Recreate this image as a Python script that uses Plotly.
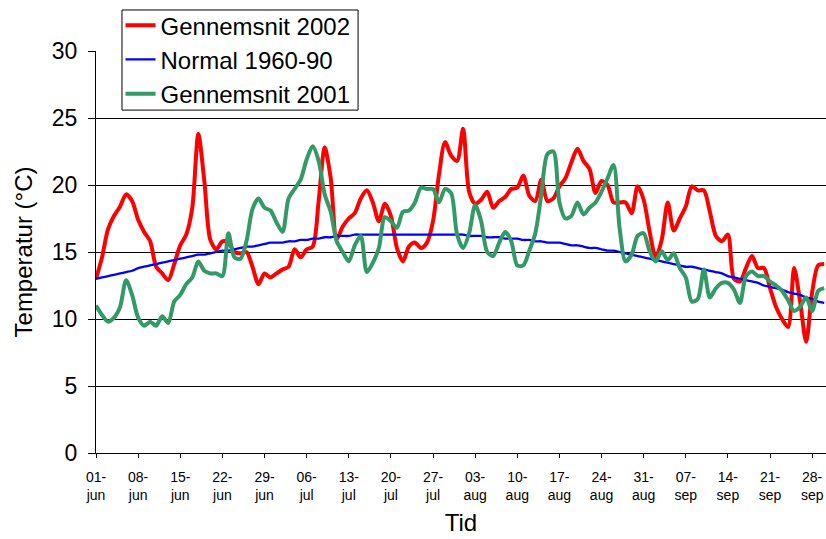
import plotly.graph_objects as go

# day index 0 = 01-jun ... 121 = 30-sep
days = list(range(122))

gennemsnit_2002 = [13.0, 14.6, 16.7, 17.7, 18.4, 19.3, 18.8, 17.4, 16.5, 15.8,
                   13.9, 13.4, 12.9, 14.1, 15.5, 16.3, 18.3, 23.8, 20.3, 15.9,
                   15.2, 15.8, 15.7, 15.0, 14.9, 15.0, 13.9, 12.6, 13.4, 13.1,
                   13.4, 13.7, 13.9, 15.2, 14.6, 15.2, 15.4, 18.8, 22.8, 20.5,
                   16.0, 16.9, 17.5, 17.9, 19.0, 19.6, 18.7, 17.3, 18.6, 17.7,
                   15.3, 14.3, 15.4, 15.7, 15.3, 15.7, 17.3, 20.8, 23.2, 22.2,
                   21.8, 24.2, 19.5, 18.6, 18.9, 19.5, 18.3, 18.8, 19.1, 19.7,
                   19.8, 20.7, 19.2, 18.8, 20.4, 18.8, 19.0, 19.9, 20.5, 21.7,
                   22.7, 21.8, 21.2, 19.4, 20.3, 20.0, 18.7, 18.7, 18.7, 17.9,
                   19.9, 18.9, 16.5, 14.6, 15.9, 18.7, 16.6, 17.5, 18.4, 19.9,
                   19.6, 19.6, 18.0, 16.2, 15.8, 16.3, 13.0, 12.8, 13.8, 14.7,
                   13.8, 13.8, 12.3, 10.9, 10.0, 9.4, 13.8, 11.3, 8.3, 12.0,
                   14.0, 14.1]

normal_1960_90 = [13.0, 13.1, 13.2, 13.3, 13.4, 13.5, 13.6, 13.8, 13.9, 14.0,
                  14.1, 14.2, 14.3, 14.4, 14.5, 14.6, 14.7, 14.8, 14.8, 14.9,
                  15.0, 15.1, 15.1, 15.2, 15.3, 15.4, 15.4, 15.5, 15.6, 15.7,
                  15.7, 15.7, 15.8, 15.8, 15.9, 15.9, 16.0, 16.0, 16.1, 16.1,
                  16.2, 16.2, 16.2, 16.3, 16.3, 16.3, 16.3, 16.3, 16.3, 16.3,
                  16.3, 16.3, 16.3, 16.3, 16.3, 16.3, 16.3, 16.3, 16.3, 16.3,
                  16.3, 16.3, 16.2, 16.2, 16.2, 16.1, 16.1, 16.1, 16.0, 16.0,
                  16.0, 15.9, 15.9, 15.8, 15.8, 15.7, 15.7, 15.7, 15.6, 15.5,
                  15.5, 15.4, 15.3, 15.3, 15.2, 15.1, 15.1, 15.0, 14.9, 14.8,
                  14.7, 14.6, 14.5, 14.4, 14.3, 14.2, 14.1, 14.0, 13.9, 13.9,
                  13.8, 13.7, 13.6, 13.5, 13.4, 13.2, 13.1, 13.0, 12.9, 12.8,
                  12.7, 12.5, 12.4, 12.3, 12.2, 12.0, 11.9, 11.8, 11.6, 11.5,
                  11.3, 11.2]

gennemsnit_2001 = [11.0, 10.3, 9.8, 10.1, 10.9, 12.9, 11.8, 10.1, 9.5, 9.8,
                   9.5, 10.2, 9.7, 11.3, 11.8, 12.6, 13.1, 14.3, 13.6, 13.4,
                   13.4, 13.2, 16.4, 14.6, 14.5, 15.8, 18.2, 19.0, 18.3, 18.1,
                   17.2, 16.5, 19.0, 19.7, 20.4, 21.9, 22.9, 21.8, 19.3, 18.0,
                   15.8, 15.0, 14.3, 15.5, 16.2, 13.5, 14.2, 15.3, 17.6, 17.3,
                   16.8, 18.0, 18.1, 18.7, 19.8, 19.7, 19.7, 18.7, 19.7, 19.4,
                   16.3, 15.3, 16.4, 18.5, 17.3, 15.0, 14.7, 15.7, 16.5, 15.8,
                   14.0, 14.0, 15.1, 16.4, 19.3, 22.3, 22.5, 18.7, 17.5, 17.7,
                   18.7, 17.8, 18.3, 18.7, 19.5, 20.5, 21.5, 16.8, 14.3, 14.8,
                   16.2, 16.4, 15.05, 14.3, 15.05, 14.4, 14.9, 13.8, 13.1, 11.3,
                   11.5, 13.7, 11.6, 12.3, 12.7, 12.7, 12.2, 11.2, 13.2, 13.55,
                   13.2, 13.2, 12.8, 12.5, 12.1, 11.4, 10.6, 10.9, 11.6, 10.6,
                   12.1, 12.3]

tick_days = [0, 7, 14, 21, 28, 35, 42, 49, 56, 63, 70, 77, 84, 91, 98, 105, 112, 119]
tick_labels = ["01-<br>jun", "08-<br>jun", "15-<br>jun", "22-<br>jun", "29-<br>jun",
               "06-<br>jul", "13-<br>jul", "20-<br>jul", "27-<br>jul",
               "03-<br>aug", "10-<br>aug", "17-<br>aug", "24-<br>aug", "31-<br>aug",
               "07-<br>sep", "14-<br>sep", "21-<br>sep", "28-<br>sep"]

font = "Liberation Sans, Arial, sans-serif"

fig = go.Figure()
fig.add_trace(go.Scatter(x=days, y=gennemsnit_2002, name="Gennemsnit 2002", mode="lines",
                         line=dict(color="#FF0000", width=4, shape="spline", smoothing=0.8)))
fig.add_trace(go.Scatter(x=days, y=normal_1960_90, name="Normal 1960-90", mode="lines",
                         line=dict(color="#0000FF", width=2.3, shape="spline", smoothing=0.8)))
fig.add_trace(go.Scatter(x=days, y=gennemsnit_2001, name="Gennemsnit 2001", mode="lines",
                         line=dict(color="#339966", width=4, shape="spline", smoothing=0.8)))

fig.update_layout(
    width=826, height=539,
    margin=dict(l=96, r=0, t=51, b=86, autoexpand=False),
    paper_bgcolor="white", plot_bgcolor="white",
    font=dict(family=font, color="black"),
    legend=dict(x=0.0336, y=1.119, xanchor="left", yanchor="top",
                bgcolor="rgba(0,0,0,0)", borderwidth=0,
                font=dict(size=24), tracegroupgap=0, itemwidth=30),
    # legend frame
    shapes=[dict(type="rect", xref="paper", yref="paper",
                 x0=0.0356, x1=0.359, y0=0.853, y1=1.102,
                 line=dict(color="black", width=1), fillcolor="white", layer="above")],
)
fig.update_xaxes(range=[0, 121.3], tickmode="array", tickvals=tick_days, ticktext=tick_labels,
                 tickfont=dict(size=14), ticks="outside", ticklen=4, tickcolor="black",
                 ticklabelstandoff=7,
                 showline=True, linecolor="black", linewidth=1, showgrid=False, zeroline=False,
                 automargin=False,
                 title=dict(text="Tid", font=dict(size=24), standoff=12))
fig.update_yaxes(range=[0, 30], tickvals=[0, 5, 10, 15, 20, 25, 30],
                 tickfont=dict(size=23), ticks="outside", ticklen=7, tickcolor="black",
                 ticklabelstandoff=6, automargin=False,
                 showline=True, linecolor="black", linewidth=1,
                 showgrid=True, gridcolor="black", gridwidth=1, zeroline=False,
                 title=dict(text="Temperatur (°C)", font=dict(size=24), standoff=12))

# drop the page's default body margin so the figure fills the window exactly
fig.write_html("out.html", config={"displayModeBar": False},
               post_script="document.body.style.margin='0';document.body.style.overflow='hidden';")
